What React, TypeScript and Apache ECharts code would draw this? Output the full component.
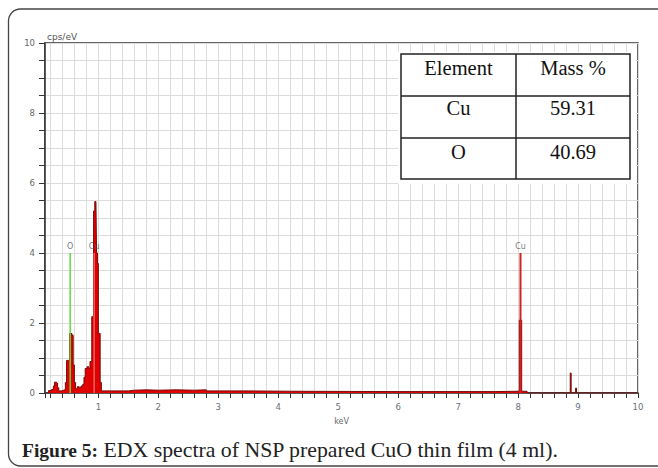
import React, { useEffect, useRef } from "react";
import * as echarts from "echarts";

// Spectrum: [energy keV (bin start), counts cps/eV]
const spectrumEnergy = [
  0.15, 0.17, 0.22, 0.25, 0.27, 0.3, 0.32, 0.34, 0.38, 0.42, 0.45, 0.47, 0.5, 0.52, 0.56, 0.58, 0.6, 0.62,
  0.65, 0.68, 0.71, 0.74, 0.76, 0.78, 0.81, 0.84, 0.86, 0.89, 0.92, 0.94, 0.96, 0.97, 0.985, 1.0, 1.03,
  1.05, 1.5, 1.6, 1.8, 2.0, 2.3, 2.6, 2.8, 3.5, 4.2, 6.0, 7.6, 8.0, 8.02, 8.06, 8.15, 8.87, 8.885, 8.96,
  8.975, 10.0,
];
const spectrumCounts = [
  0.0, 0.07, 0.1, 0.2, 0.31, 0.28, 0.15, 0.06, 0.08, 0.1, 0.3, 0.93, 0.95, 1.7, 1.65, 0.8, 0.3, 0.12,
  0.18, 0.15, 0.2, 0.25, 0.45, 0.7, 0.75, 0.7, 0.9, 2.18, 5.2, 5.47, 5.42, 4.0, 3.7, 1.7, 0.3,
  0.06, 0.08, 0.09, 0.08, 0.09, 0.08, 0.09, 0.06, 0.05, 0.04, 0.04, 0.05, 0.06, 2.08, 0.05, 0.0, 0.57, 0.0, 0.14,
  0.0, 0.0,
];

// Element marker lines
const markerNames = ["O", "Cu", "Cu"];
const markerEnergy = [0.53, 0.93, 8.04];
const markerHeight = [4, 4, 4];
const markerColors = ["#5ddc3a", "#f06060", "#d42020"];

// Table
const tableHeader = ["Element", "Mass %"];
const tableElements = ["Cu", "O"];
const tableMass = ["59.31", "40.69"];

const yTickLabels = [0, 2, 4, 6, 8, 10];

export default function App() {
  const ref = useRef<HTMLDivElement>(null);
  useEffect(() => {
    if (!ref.current) return;
    const chart = echarts.init(ref.current, null, { renderer: "svg" });
    const spectrum = spectrumEnergy.map((e, i) => [e, spectrumCounts[i]]);
    const serif = "'Liberation Serif', 'Times New Roman', serif";
    const tl = 401, tr = 630, tt = 54, tb = 179, tc = 516, r1 = 96, r2 = 138;
    const colCenters = [(tl + tc) / 2, (tc + tr) / 2];
    const rowTextY = [68, 108, 152];
    const markerSeries = markerEnergy.map((e, i) => ({
      type: "line",
      data: [
        [e, 0],
        [e, markerHeight[i]],
      ],
      symbol: "none",
      lineStyle: { color: markerColors[i], width: i === 2 ? 2 : 1.5 },
      z: 5,
      silent: true,
    }));
    const cellText = (text: string, x: number, y: number) => ({
      type: "text",
      z: 103,
      x,
      y,
      style: { text, fontSize: 20.5, fontFamily: serif, fill: "#111", align: "center", verticalAlign: "middle" },
    });
    chart.setOption({
      animation: false,
      grid: {
        left: 45,
        right: 20,
        top: 43,
        bottom: 75,
        show: true,
        borderColor: "#333",
        borderWidth: 1.5,
        backgroundColor: "transparent",
      },
      xAxis: {
        type: "value",
        min: 0.11,
        max: 10,
        splitNumber: 50,
        name: "keV",
        nameLocation: "middle",
        nameGap: 24,
        nameTextStyle: { fontSize: 8, color: "#666", fontFamily: "DejaVu Sans" },
        axisLine: { show: true, lineStyle: { color: "#333", width: 1.5 } },
        axisTick: { show: true, length: 5, lineStyle: { color: "#333" } },
        axisLabel: {
          fontSize: 8.5,
          color: "#6a6f7a",
          fontFamily: "DejaVu Sans",
          margin: 9,
          showMinLabel: true,
          showMaxLabel: true,
          formatter: (v: number) => (Math.abs(v - Math.round(v)) < 1e-6 && v > 0.5 ? String(Math.round(v)) : ""),
        },
        splitLine: { show: true, lineStyle: { color: "#dcdcdc", width: 1 } },
      },
      yAxis: {
        type: "value",
        min: 0,
        max: 10,
        interval: 0.5,
        axisLine: { show: true, lineStyle: { color: "#333", width: 1.5 } },
        axisTick: { show: true, length: 6, lineStyle: { color: "#333" } },
        axisLabel: {
          fontSize: 8.5,
          color: "#666",
          fontFamily: "DejaVu Sans",
          margin: 10,
          formatter: (v: number) => (yTickLabels.some((t) => Math.abs(t - v) < 1e-6) ? String(v) : ""),
        },
        splitLine: { show: true, lineStyle: { color: "#dcdcdc", width: 1 } },
      },
      series: [
        {
          type: "line",
          data: spectrum,
          step: "end",
          symbol: "none",
          lineStyle: { color: "#7a0a0a", width: 1 },
          areaStyle: { color: "#e00000", opacity: 1 },
          z: 3,
          silent: true,
        },
        ...markerSeries,
        {
          type: "scatter",
          data: markerEnergy.map((e, i) => ({ value: [e, markerHeight[i]], name: markerNames[i] })),
          symbolSize: 0,
          z: 6,
          silent: true,
          label: {
            show: true,
            position: "top",
            distance: 3,
            formatter: (p: any) => p.name,
            fontSize: 8,
            color: "#555",
            fontFamily: "DejaVu Sans",
          },
        },
      ],
      graphic: [
        {
          type: "rect",
          z: 100,
          shape: { x: 8.5, y: 9, width: 720, height: 457, r: 12 },
          style: { fill: "none", stroke: "#444", lineWidth: 1.3 },
          silent: true,
        },
        {
          type: "text",
          z: 100,
          x: 47,
          y: 41,
          style: { text: "cps/eV", fontSize: 9, fill: "#555", fontFamily: "DejaVu Sans", verticalAlign: "bottom" },
        },
        {
          type: "rect",
          z: 100,
          shape: { x: 398, y: 52, width: 238, height: 132 },
          style: { fill: "#fff" },
        },
        {
          type: "rect",
          z: 101,
          shape: { x: tl, y: tt, width: tr - tl, height: tb - tt },
          style: { fill: "#fff", stroke: "#222", lineWidth: 1.5 },
        },
        { type: "line", z: 102, shape: { x1: tc, y1: tt, x2: tc, y2: tb }, style: { stroke: "#222", lineWidth: 1.5 } },
        { type: "line", z: 102, shape: { x1: tl, y1: r1, x2: tr, y2: r1 }, style: { stroke: "#222", lineWidth: 1.5 } },
        { type: "line", z: 102, shape: { x1: tl, y1: r2, x2: tr, y2: r2 }, style: { stroke: "#222", lineWidth: 1.5 } },
        ...tableHeader.map((h, i) => cellText(h, colCenters[i], rowTextY[0])),
        ...tableElements.flatMap((el, r) => [
          cellText(el, colCenters[0], rowTextY[r + 1]),
          cellText(tableMass[r], colCenters[1], rowTextY[r + 1]),
        ]),
        {
          type: "text",
          z: 100,
          x: 22,
          y: 450,
          style: {
            text: "{b|Figure 5:}{r| EDX spectra of NSP prepared CuO thin film (4 ml).}",
            fontSize: 21,
            fontFamily: serif,
            fill: "#222",
            verticalAlign: "middle",
            rich: {
              b: { fontSize: 19.5, fontFamily: serif, fontWeight: "bold", fill: "#222" },
              r: { fontSize: 21.8, fontFamily: serif, fill: "#222" },
            },
          },
        },
      ],
    });
    return () => chart.dispose();
  }, []);
  return <div ref={ref} style={{ position: "fixed", left: 0, top: 0, width: 658, height: 468, background: "#fff" }} />;
}
